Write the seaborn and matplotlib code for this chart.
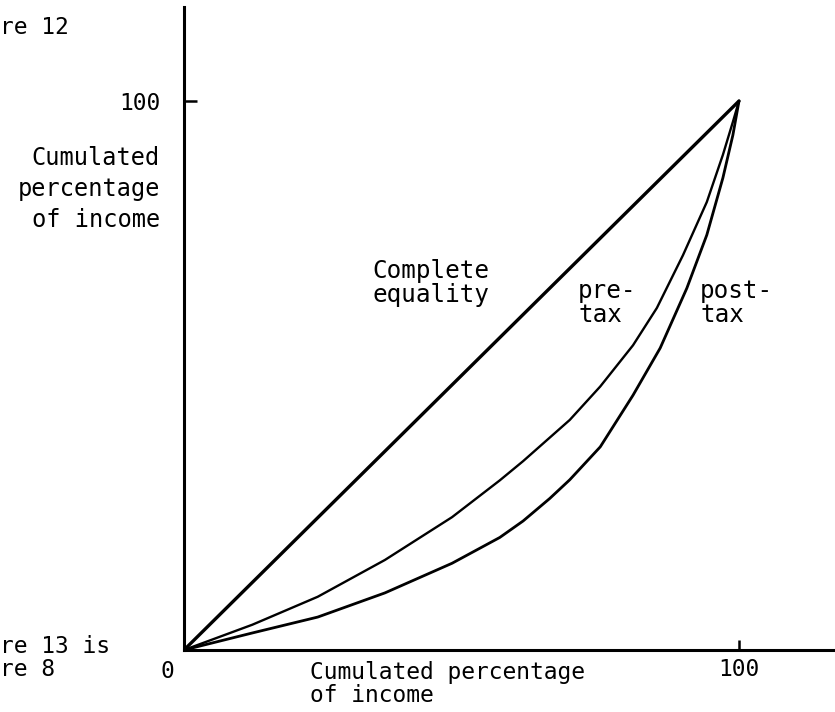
import numpy as np
import pandas as pd
import seaborn as sns
import matplotlib.pyplot as plt

# Lorenz curves (percent of population vs percent of income)
equality_x = [0, 100]
equality_y = [0, 100]

pretax_x = [0, 12.3, 24.1, 36.2, 48.3, 56.9, 61.1, 69.5, 75, 80.9, 85.2, 89.9, 94.2, 97.1, 98.9, 100]
pretax_y = [0, 4.6, 9.7, 16.4, 24.2, 30.9, 34.4, 41.9, 48, 55.5, 62.3, 71.9, 81.6, 90.2, 96.2, 100]

posttax_x = [0, 12.3, 24.1, 36.2, 48.3, 56.9, 61.1, 65.9, 69.5, 75, 80.9, 85.8, 90.6, 94.2, 97.1, 98.9, 100]
posttax_y = [0, 3.1, 6.0, 10.4, 15.8, 20.5, 23.5, 27.6, 31, 37, 46.4, 55, 65.9, 75.6, 86, 93.8, 100]

tick_value = 100
tick_label = "100"

sns.set_theme(style="white")
plt.rcParams['font.family'] = ['DejaVu Sans Mono', 'DejaVu Sans']
plt.rcParams['text.color'] = 'black'
plt.rcParams['xtick.color'] = 'black'
plt.rcParams['ytick.color'] = 'black'

W, H = 835, 712
fig = plt.figure(figsize=(W / 100, H / 100), dpi=100)
ax = fig.add_axes([184 / W, 62 / H, (W - 184) / W, (650 - 7) / H])

curves = pd.concat([
    pd.DataFrame({'x': equality_x, 'y': equality_y, 'curve': 'equality'}),
    pd.DataFrame({'x': pretax_x, 'y': pretax_y, 'curve': 'pre-tax'}),
    pd.DataFrame({'x': posttax_x, 'y': posttax_y, 'curve': 'post-tax'}),
])

widths = {'equality': 2.4, 'pre-tax': 1.7, 'post-tax': 2.0}
for name, grp in curves.groupby('curve', sort=False):
    sns.lineplot(data=grp, x='x', y='y', sort=False, estimator=None,
                 color='black', linewidth=widths[name], ax=ax)

ax.set_xlim(0, (W - 184) / 5.55)
ax.set_ylim(0, (650 - 7) / 5.49)
for side in ['top', 'right']:
    ax.spines[side].set_visible(False)
for side in ['left', 'bottom']:
    ax.spines[side].set_color('black')
    ax.spines[side].set_linewidth(2.2)

ax.set_xticks([tick_value])
ax.set_xticklabels([tick_label])
ax.set_yticks([tick_value])
ax.set_yticklabels([tick_label])
ax.tick_params(axis='x', direction='in', length=7, width=1.8, color='black',
               labelcolor='black', labelsize=16.5, pad=6, bottom=True)
ax.tick_params(axis='y', direction='in', length=9, width=1.8, color='black',
               labelcolor='black', labelsize=16.5, pad=17, left=True)
ax.set_xlabel('')
ax.set_ylabel('')

fs = 16.5
fs_in = 17.5
# labels inside the plot
ax.text(34.0, 66.8, 'Complete\nequality', fontsize=fs_in, ha='left', va='center',
        linespacing=1.0, color='black')
ax.text(71.0, 63.2, 'pre-\ntax', fontsize=fs_in, ha='left', va='center',
        linespacing=1.0, color='black')
ax.text(93.0, 63.2, 'post-\ntax', fontsize=fs_in, ha='left', va='center',
        linespacing=1.0, color='black')

# labels outside the axes, in pixel positions of the page
def px(x, y):
    return x / W, 1 - y / H

fig.text(*px(160, 189), 'Cumulated\npercentage\nof income', fontsize=17,
         ha='right', va='center', multialignment='right', linespacing=1.38,
         color='black')
fig.text(*px(310, 684), 'Cumulated percentage\nof income', fontsize=fs,
         ha='left', va='center', linespacing=1.05, color='black')
fig.text(*px(167, 672), '0', fontsize=fs, ha='center', va='center', color='black')
fig.text(*px(0, 27), 're 12', fontsize=fs, ha='left', va='center', color='black')
fig.text(*px(0, 658), 're 13 is\nre 8', fontsize=fs, ha='left', va='center',
         linespacing=1.05, color='black')

fig.savefig('out.png', dpi=100)
